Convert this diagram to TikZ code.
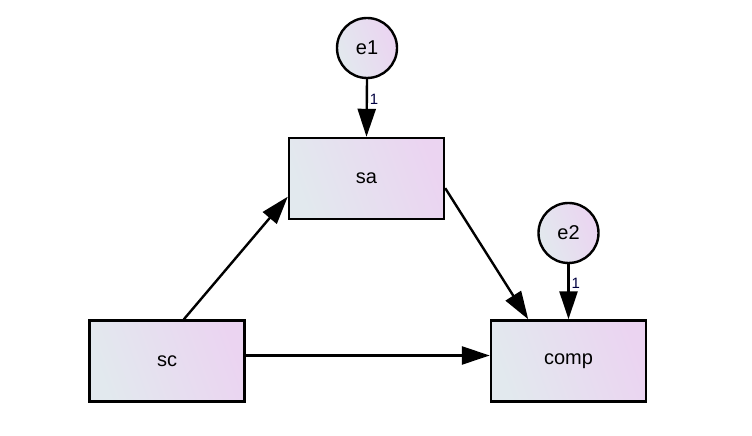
\documentclass[tikz,border=0pt]{standalone}
\usepackage{fontspec}
\setmainfont{Liberation Sans}
\usetikzlibrary{arrows.meta}
\usetikzlibrary{shapes}
\definecolor{shade left}{RGB}{226,233,238}
\definecolor{shade right}{RGB}{235,212,241}

\begin{document}
\begin{tikzpicture}[x=1pt, y=1pt]
            \tikzset{observed/.style={draw, line width=2.4pt, rectangle, minimum width=155pt, minimum height=81pt, left color=shade left, right color=shade right, shading angle=110, font={\fontsize{20}{22}\selectfont}}}
            \tikzset{residual/.style={draw, line width=2.4pt, circle, minimum size=60pt, inner sep=0pt, left color=shade left, right color=shade right, shading angle=110, font={\fontsize{20}{22}\selectfont}}}
            \tikzset{path/.style={line width=2.4pt, -{Triangle[length=28pt, width=18pt]}}}
            \tikzset{weight/.style={font={\fontsize{15}{16}\selectfont}, inner sep=1.8pt, text=black!75!blue}}
            \useasboundingbox (0, 0) rectangle (752, 436);
            \node[observed] (sa) at (366.5, 257.5) {sa};
            \node[observed] (sc) at (167, 75) {sc};
            \node[observed] (comp) at (568.5, 75) {comp};
            \node[residual] (e1) at (367, 388) {e1};
            \node[residual] (e2) at (568.5, 203) {e2};
            
            \draw[path] (e1.south) -- (sa.north) node[weight, pos=0.35, right] {1};
            \draw[path] (e2.south) -- (comp.north) node[weight, pos=0.35, right] {1};
            \draw[path] (sc.68) -- (sa.193);
            \draw[path] (sa.-7) -- (comp.134);
            \draw[path] (sc.4) -- (comp.176);
        \end{tikzpicture}
\end{document}
